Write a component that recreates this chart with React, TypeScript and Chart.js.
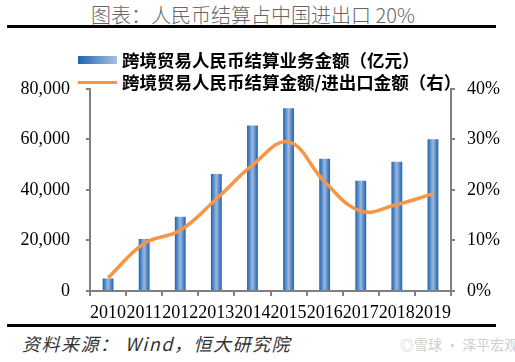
import React, { useEffect, useRef } from "react";
import { Chart, registerables } from "chart.js";

Chart.register(...registerables);

const years = ["2010", "2011", "2012", "2013", "2014", "2015", "2016", "2017", "2018", "2019"];
const settlement = [4900, 20600, 29400, 46300, 65500, 72300, 52300, 43600, 51100, 60000];
const ratioPct = [2.6, 9.4, 12.0, 18.2, 24.9, 29.5, 21.6, 15.8, 17.1, 19.2];
const leftMax = 80000;
const leftStep = 20000;
const rightMax = 40;
const rightStep = 10;

const titleText = "图表：人民币结算占中国进出口 20%";
const barLabel = "跨境贸易人民币结算业务金额（亿元）";
const lineLabel = "跨境贸易人民币结算金额/进出口金额（右）";
const sourceText = "资料来源： Wind，恒大研究院";
const watermark = "◎雪球 · 泽平宏观";

const BAR_PCT = 0.3;
const AXIS_GRAY = "#808080";
const LINE_ORANGE = "#F79646";
const tickFont = { family: "'Liberation Serif', 'Times New Roman', serif", size: 18 };

export default function App() {
  const canvasRef = useRef<HTMLCanvasElement | null>(null);

  useEffect(() => {
    const canvas = canvasRef.current;
    if (!canvas) return;
    const chart = new Chart(canvas, {
      type: "bar",
      data: {
        labels: years,
        datasets: [
          {
            type: "line",
            label: lineLabel,
            data: ratioPct,
            yAxisID: "y1",
            borderColor: LINE_ORANGE,
            backgroundColor: LINE_ORANGE,
            borderWidth: 3.5,
            pointRadius: 0,
            tension: 0.4,
            order: 0,
          } as any,
          {
            type: "bar",
            label: barLabel,
            data: settlement,
            yAxisID: "y",
            order: 1,
            barPercentage: BAR_PCT,
            categoryPercentage: 1,
            backgroundColor: (ctx: any) => {
              const c = ctx.chart;
              const xs = c.scales && c.scales.x;
              if (!xs || ctx.dataIndex == null) return "#4A86C8";
              const x = xs.getPixelForValue(ctx.dataIndex);
              const half = ((xs.width / years.length) * BAR_PCT) / 2;
              if (!Number.isFinite(x) || !Number.isFinite(half) || half <= 0) return "#4A86C8";
              const g = c.ctx.createLinearGradient(x - half, 0, x + half, 0);
              g.addColorStop(0, "#1F64B0");
              g.addColorStop(0.15, "#3F7CC0");
              g.addColorStop(0.5, "#9DB8DF");
              g.addColorStop(0.85, "#3F7CC0");
              g.addColorStop(1, "#1F64B0");
              return g;
            },
          } as any,
        ],
      },
      options: {
        responsive: false,
        animation: false,
        layout: { padding: { top: 20, left: 0, right: 0, bottom: 0 } },
        plugins: {
          legend: { display: false },
          title: { display: false },
          tooltip: { enabled: false },
        },
        scales: {
          x: {
            grid: {
              display: true,
              drawOnChartArea: false,
              drawTicks: true,
              tickLength: 5,
              color: AXIS_GRAY,
              lineWidth: 2,
              offset: true,
            },
            border: { display: true, color: AXIS_GRAY, width: 2 },
            ticks: {
              autoSkip: false,
              maxRotation: 0,
              minRotation: 0,
              padding: 6,
              color: "#000",
              font: tickFont,
            },
            afterFit: (s: any) => {
              s.height = 30;
            },
          },
          y: {
            position: "left",
            min: 0,
            max: leftMax,
            grid: {
              display: true,
              drawOnChartArea: false,
              drawTicks: true,
              tickLength: 4,
              color: AXIS_GRAY,
              lineWidth: 2,
            },
            border: { display: true, color: AXIS_GRAY, width: 2 },
            ticks: {
              stepSize: leftStep,
              padding: 16,
              color: "#000",
              font: tickFont,
              callback: (v: any) => Number(v).toLocaleString("en-US"),
            },
            afterFit: (s: any) => {
              s.width = 90;
            },
          },
          y1: {
            position: "right",
            min: 0,
            max: rightMax,
            grid: {
              display: true,
              drawOnChartArea: false,
              drawTicks: true,
              tickLength: 4,
              color: AXIS_GRAY,
              lineWidth: 2,
            },
            border: { display: true, color: AXIS_GRAY, width: 2 },
            ticks: {
              stepSize: rightStep,
              padding: 12,
              color: "#000",
              font: tickFont,
              callback: (v: any) => `${v}%`,
            },
            afterFit: (s: any) => {
              s.width = 64;
            },
          },
        },
      } as any,
    });
    return () => chart.destroy();
  }, []);

  const cjk = "'Noto Sans CJK SC', 'Noto Sans', sans-serif";

  return (
    <div
      style={{
        position: "absolute",
        left: 0,
        top: 0,
        width: 515,
        height: 362,
        background: "#fff",
        overflow: "hidden",
      }}
    >
      <div
        style={{
          position: "absolute",
          left: 0,
          top: 3,
          width: 506,
          textAlign: "center",
          fontFamily: cjk,
          fontWeight: 300,
          fontSize: 20,
          lineHeight: "24px",
          color: "#666",
          whiteSpace: "nowrap",
        }}
      >
        {titleText}
      </div>
      <div style={{ position: "absolute", left: 7, top: 25, width: 489, height: 3, background: "#000" }} />

      <canvas
        ref={canvasRef}
        width={515}
        height={259}
        style={{ position: "absolute", left: 0, top: 62, width: 515, height: 259 }}
      />

      <div
        style={{
          position: "absolute",
          left: 78,
          top: 56,
          width: 39,
          height: 8,
          background: "linear-gradient(to right, #1F64B0, #A9C1E2)",
          zIndex: 2,
        }}
      />
      <div
        style={{
          position: "absolute",
          left: 122,
          top: 49,
          fontFamily: cjk,
          fontWeight: 700,
          fontSize: 17.5,
          lineHeight: "22px",
          color: "#000",
          whiteSpace: "nowrap",
          zIndex: 2,
        }}
      >
        {barLabel}
      </div>
      <div
        style={{
          position: "absolute",
          left: 78,
          top: 80.5,
          width: 39,
          height: 3,
          background: LINE_ORANGE,
          zIndex: 2,
        }}
      />
      <div
        style={{
          position: "absolute",
          left: 122,
          top: 71,
          fontFamily: cjk,
          fontWeight: 700,
          fontSize: 17.5,
          lineHeight: "22px",
          color: "#000",
          whiteSpace: "nowrap",
          zIndex: 2,
        }}
      >
        {lineLabel}
      </div>

      <div style={{ position: "absolute", left: 7, top: 324, width: 489, height: 3, background: "#000" }} />
      <div
        style={{
          position: "absolute",
          left: 22,
          top: 332,
          fontFamily: cjk,
          fontStyle: "italic",
          fontSize: 18,
          letterSpacing: 1.5,
          lineHeight: "22px",
          color: "#333",
          whiteSpace: "nowrap",
        }}
      >
        {sourceText}
      </div>
      <div
        style={{
          position: "absolute",
          left: 400,
          top: 334,
          fontFamily: cjk,
          fontSize: 14,
          lineHeight: "20px",
          color: "#cfcfcf",
          whiteSpace: "nowrap",
        }}
      >
        {watermark}
      </div>
    </div>
  );
}
